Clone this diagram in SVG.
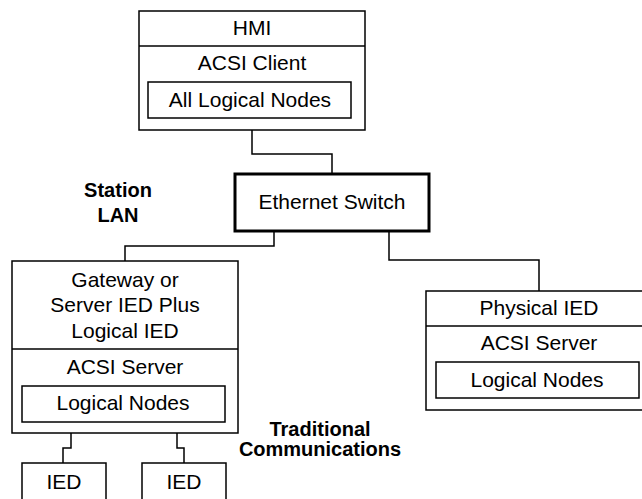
<svg xmlns="http://www.w3.org/2000/svg" width="642" height="499" viewBox="0 0 642 499">
  <style>
    .box { fill: #ffffff; stroke: #000000; stroke-width: 1.5; }
    .thick { fill: #ffffff; stroke: #000000; stroke-width: 3; }
    .line { fill: none; stroke: #000000; stroke-width: 1.5; }
    .wire { fill: none; stroke: #000000; stroke-width: 1.5; }
    text { font-family: "Liberation Sans", Arial, sans-serif; font-size: 21px; fill: #000000; text-anchor: middle; }
    .label { font-weight: bold; font-size: 20px; }
  </style>
  <rect width="642" height="499" fill="#ffffff"/>

  <!-- connectors -->
  <g id="connectors">
    <polyline class="wire" points="252,130 252,154 332,154 332,174"/>
    <polyline class="wire" points="274,231 274,246 125,246 125,261"/>
    <polyline class="wire" points="389,231 389,260 539,260 539,291"/>
    <polyline class="wire" points="71,433 71,448 63,448 63,463"/>
    <polyline class="wire" points="177,433 177,448 184,448 184,463"/>
  </g>

  <!-- HMI client -->
  <g id="hmi">
    <rect class="box" x="139" y="11" width="226" height="119"/>
    <line class="line" x1="139" y1="46" x2="365" y2="46"/>
    <text x="252" y="35">HMI</text>
    <text x="252" y="70">ACSI Client</text>
    <rect class="box" x="148" y="82" width="203" height="36"/>
    <text x="250" y="107">All Logical Nodes</text>
  </g>

  <!-- Ethernet switch -->
  <g id="switch">
    <rect class="thick" x="235" y="174" width="194" height="57"/>
    <text x="332" y="209">Ethernet Switch</text>
  </g>

  <!-- Station LAN label -->
  <g id="station-lan">
    <text class="label" x="118" y="197">Station</text>
    <text class="label" x="118" y="222">LAN</text>
  </g>

  <!-- Gateway / server IED -->
  <g id="gateway">
    <rect class="box" x="12" y="261" width="226" height="172"/>
    <line class="line" x1="12" y1="349" x2="238" y2="349"/>
    <text x="125" y="287">Gateway or</text>
    <text x="125" y="312">Server IED Plus</text>
    <text x="125" y="338">Logical IED</text>
    <text x="125" y="374">ACSI Server</text>
    <rect class="box" x="22" y="386" width="203" height="36"/>
    <text x="123" y="410">Logical Nodes</text>
  </g>

  <!-- Physical IED -->
  <g id="physical-ied">
    <rect class="box" x="426" y="291" width="226" height="119"/>
    <line class="line" x1="426" y1="326" x2="652" y2="326"/>
    <text x="539" y="315">Physical IED</text>
    <text x="539" y="350">ACSI Server</text>
    <rect class="box" x="436" y="362" width="203" height="36"/>
    <text x="537" y="387">Logical Nodes</text>
  </g>

  <!-- Traditional communications label -->
  <g id="traditional">
    <text class="label" x="320" y="436">Traditional</text>
    <text class="label" x="320" y="456">Communications</text>
  </g>

  <!-- Field IEDs -->
  <g id="ied-1">
    <rect class="box" x="22" y="463" width="84" height="50"/>
    <text x="64" y="489">IED</text>
  </g>
  <g id="ied-2">
    <rect class="box" x="142" y="463" width="84" height="50"/>
    <text x="184" y="489">IED</text>
  </g>
</svg>
